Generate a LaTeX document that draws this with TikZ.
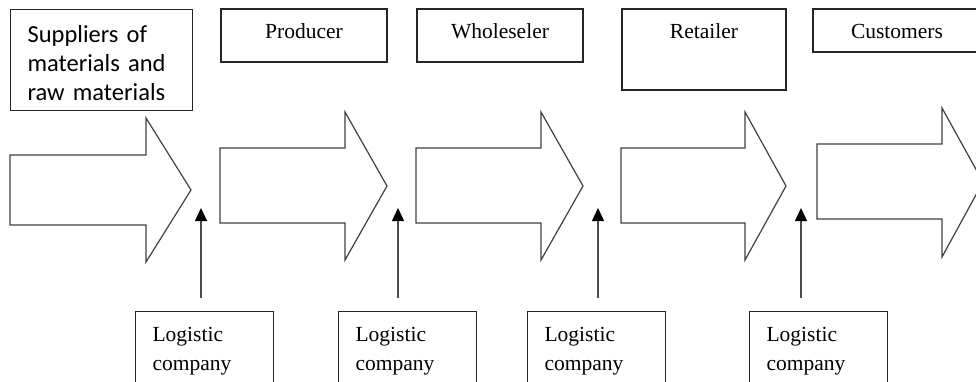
\documentclass[tikz,border=0pt]{standalone}
\usepackage{fontspec}
\setmainfont{Liberation Serif}
\newfontfamily\calibrifont{Carlito}
\usetikzlibrary{arrows.meta}
\usetikzlibrary{positioning}

\begin{document}
\begin{tikzpicture}[x=1pt, y=-1pt]
  \tikzset{
    topbox/.style={
      draw=black!85,
      line width=1.2pt,
      inner sep=0pt,
      align=center,
      text height=30pt,
      anchor=base,
      font=\fontsize{21.5}{29}\selectfont
    },
    supbox/.style={
      draw=black!85,
      line width=1.2pt,
      anchor=north west,
      align=left,
      text width=148pt,
      inner xsep=17pt,
      minimum height=101pt,
      font=\calibrifont\fontsize{24.5}{29.2}\selectfont
    },
    logbox/.style={
      draw=black!85,
      line width=1.2pt,
      anchor=north west,
      align=left,
      text width=104pt,
      inner xsep=17pt,
      inner ysep=16pt,
      font=\fontsize{21.5}{29}\selectfont
    },
    flow/.style={
      draw=black!75,
      line width=1.2pt,
      line join=miter
    },
    supply/.style={
      draw=black!70,
      line width=1.3pt,
      -{Triangle[length=13pt, width=12pt, color=black]}
    }
  }
  \useasboundingbox (0,0) rectangle (976,382);

  % Chain members
  \node[supbox] (suppliers) at (10,9) {\rule{0pt}{23pt}Suppliers of\\materials and\\raw materials};
  \node[topbox, text width=166pt, text depth=23pt] (producer) at (304,39) {Producer};
  \node[topbox, text width=166pt, text depth=23pt] (wholeseler) at (500,39) {Wholeseler};
  \node[topbox, text width=164pt, text depth=51pt] (retailer) at (704,39) {Retailer};
  \node[topbox, text width=168pt, text depth=13pt] (customers) at (897,39) {Customers};

  % Flow arrows
  \draw[flow] (10,155) -- (146,155) -- (146,118) -- (191,190) -- (146,262) -- (146,225) -- (10,225) -- cycle;
  \draw[flow] (220,148) -- (345,148) -- (345,112) -- (387,186) -- (345,260) -- (345,223) -- (220,223) -- cycle;
  \draw[flow] (416,148) -- (541,148) -- (541,112) -- (583,186) -- (541,260) -- (541,223) -- (416,223) -- cycle;
  \draw[flow] (621,148) -- (745,148) -- (745,112) -- (786,186) -- (745,260) -- (745,223) -- (621,223) -- cycle;
  \draw[flow] (817,144) -- (942,144) -- (942,108) -- (983,182) -- (942,257) -- (942,219) -- (817,219) -- cycle;

  % Logistic companies
  \node[logbox] (log1) at (135,311) {Logistic\\company};
  \node[logbox] (log2) at (338,311) {Logistic\\company};
  \node[logbox] (log3) at (527,311) {Logistic\\company};
  \node[logbox] (log4) at (749,311) {Logistic\\company};

  % Gaps between the links
  \coordinate (g1) at (201,208);
  \coordinate (g2) at (398,208);
  \coordinate (g3) at (598,208);
  \coordinate (g4) at (801,208);

  % Edges
  \draw[supply, shorten <=13pt] (log1.north -| g1) -- (g1);
  \draw[supply, shorten <=13pt] (log2.north -| g2) -- (g2);
  \draw[supply, shorten <=13pt] (log3.north -| g3) -- (g3);
  \draw[supply, shorten <=13pt] (log4.north -| g4) -- (g4);
\end{tikzpicture}
\end{document}
